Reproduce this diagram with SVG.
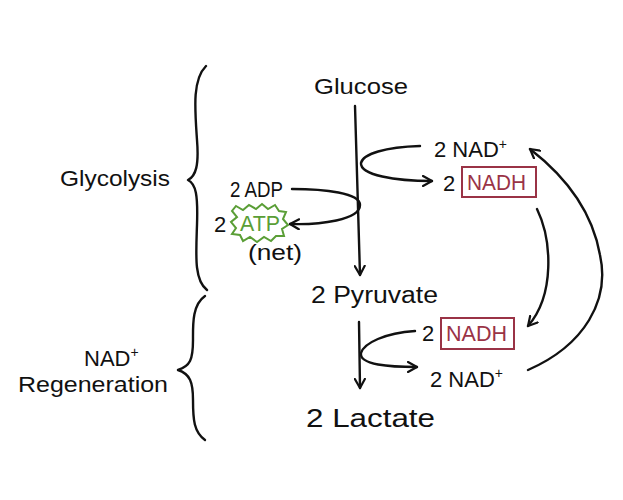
<svg xmlns="http://www.w3.org/2000/svg" width="623" height="500" viewBox="0 0 623 500">
<style>
text{font-family:"Liberation Sans","DejaVu Sans",sans-serif;fill:#111;font-size:22px}
.s{font-size:14px}
.red{fill:#9a3346}
.grn{fill:#5a9e36}
.ln{fill:none;stroke:#111;stroke-width:2.4;stroke-linecap:round;stroke-linejoin:round}
</style>
<defs>
<marker id="ah" viewBox="0 0 12 12" refX="10" refY="6" markerWidth="12" markerHeight="12" markerUnits="userSpaceOnUse" orient="auto">
<path d="M1,1 L10,6 L1,11" fill="none" stroke="#111" stroke-width="2.2" stroke-linecap="round" stroke-linejoin="round"/>
</marker>
</defs>
<rect width="623" height="500" fill="#fff"/>
<g id="brackets">
<path class="ln" d="M206,66 C192,80 195,110 197,140 C199,165 196,176 188,180 C196,184 198,195 197,225 C196,255 194,280 207,290"/>
<path class="ln" d="M205,296 C192,305 193,325 193,340 C193,360 190,366 178,370 C190,374 193,382 193,400 C193,420 194,432 205,440"/>
</g>
<g id="glycolysis-label"><text x="60" y="186" textLength="110" lengthAdjust="spacingAndGlyphs">Glycolysis</text></g>
<g id="regen-label"><text x="84" y="366">NAD<tspan class="s" dy="-9">+</tspan></text><text x="18" y="392" textLength="150" lengthAdjust="spacingAndGlyphs">Regeneration</text></g>
<g id="glucose"><text x="314" y="94" textLength="94" lengthAdjust="spacingAndGlyphs">Glucose</text></g>
<g id="nad-top"><text x="434" y="157">2 NAD<tspan class="s" dy="-8">+</tspan></text></g>
<g id="nadh-top"><text x="443" y="191">2</text><rect x="462" y="167" width="74" height="30" fill="none" stroke="#9a3346" stroke-width="2"/><text class="red" x="467" y="190" textLength="59" lengthAdjust="spacingAndGlyphs">NADH</text></g>
<g id="adp"><text x="230" y="197" textLength="53" lengthAdjust="spacingAndGlyphs">2 ADP</text></g>
<g id="atp"><text x="214" y="232">2</text>
<path d="M236,206 L243,210 L249,205 L256,209 L262,204 L268,209 L275,205 L279,211 L286,212 L283,219 L288,225 L282,229 L284,236 L276,236 L271,241 L264,237 L257,242 L250,237 L243,241 L240,235 L232,234 L236,228 L231,222 L237,217 L232,211 Z" fill="none" stroke="#5a9e36" stroke-width="2"/>
<text class="grn" x="240" y="231" textLength="40" lengthAdjust="spacingAndGlyphs">ATP</text></g>
<g id="net"><text x="248" y="260" textLength="54" lengthAdjust="spacingAndGlyphs">(net)</text></g>
<g id="pyruvate"><text x="311" y="303" style="font-size:23px" textLength="127" lengthAdjust="spacingAndGlyphs">2 Pyruvate</text></g>
<g id="nadh-bottom"><text x="422" y="341">2</text><rect x="441" y="318" width="73" height="31" fill="none" stroke="#9a3346" stroke-width="2"/><text class="red" x="446" y="341" textLength="61" lengthAdjust="spacingAndGlyphs">NADH</text></g>
<g id="nad-bottom"><text x="430" y="387">2 NAD<tspan class="s" dy="-9">+</tspan></text></g>
<g id="lactate"><text x="306" y="427" style="font-size:25px" textLength="129" lengthAdjust="spacingAndGlyphs">2 Lactate</text></g>
<g id="connectors">
<path class="ln" d="M355,106 L360,275" marker-end="url(#ah)"/>
<path class="ln" d="M420,146 C385,147 363,154 361,163 C360,175 395,181 432,181" marker-end="url(#ah)"/>
<path class="ln" d="M292,189 C325,189 360,193 360,205 C360,220 320,225 290,224" marker-end="url(#ah)"/>
<path class="ln" d="M359,322 L360,388" marker-end="url(#ah)"/>
<path class="ln" d="M415,331 C385,333 364,343 361,353 C359,365 390,367 417,367" marker-end="url(#ah)"/>
<path class="ln" d="M537,209 C552,240 555,295 528,326" marker-end="url(#ah)"/>
<path class="ln" d="M528,370 C585,345 610,300 600,255 C593,215 570,180 530,149" marker-end="url(#ah)"/>
</g>
</svg>
